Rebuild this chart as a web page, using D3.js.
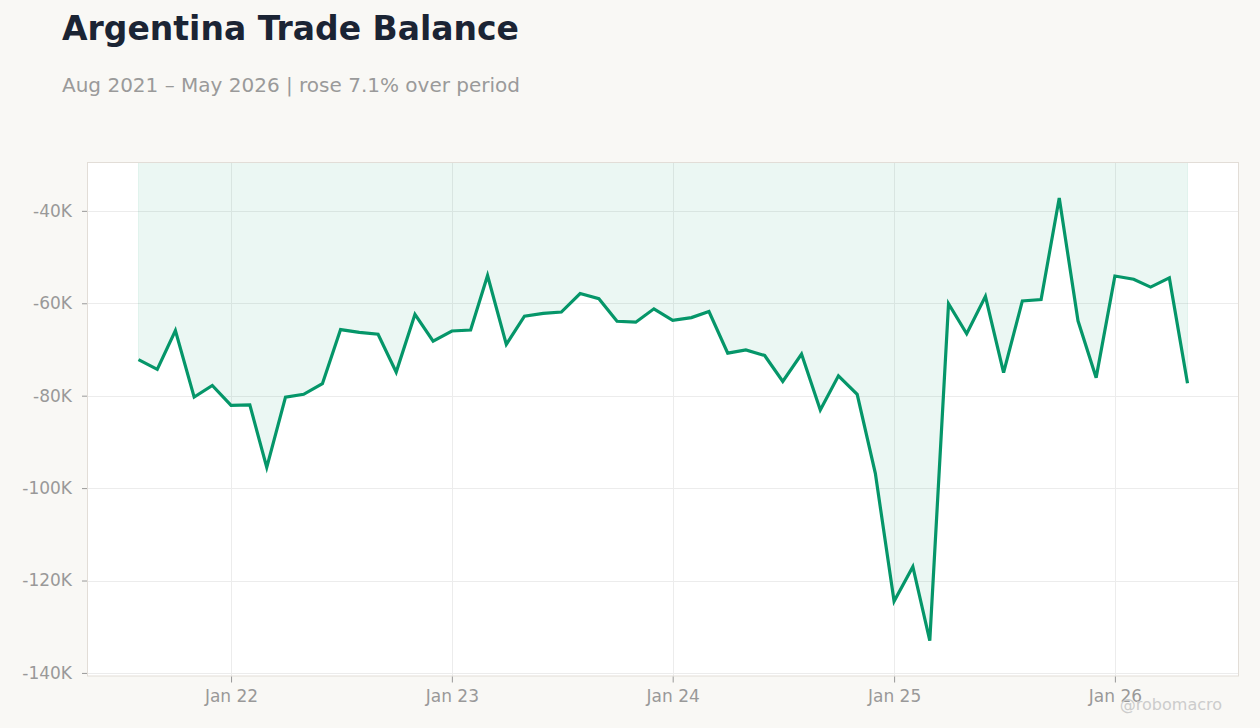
<!DOCTYPE html>
<html>
<head>
<meta charset="utf-8">
<script src="https://cdn.jsdelivr.net/npm/d3@7/dist/d3.min.js"></script>
<style>
  html, body { margin: 0; padding: 0; background: #f9f8f5; }
  svg { display: block; font-family: 'DejaVu Sans', sans-serif; }
</style>
</head>
<body>
<svg id="chart" width="1260" height="728"></svg>
<script>
'use strict';

// monthly values, thousands of USD, Aug 2021 .. May 2026
var startMonth = '2021-08';
var balance = [
  -72.2, -74.3, -65.9, -80.3, -77.8,
  -82.1, -82.0, -95.5, -80.3, -79.7, -77.4, -65.7, -66.3, -66.7, -74.9, -62.4, -68.2,
  -66.0, -65.8, -54.0, -68.9, -62.8, -62.2, -61.9, -57.9, -59.0, -63.9, -64.1, -61.2,
  -63.7, -63.1, -61.8, -70.8, -70.1, -71.3, -76.9, -71.0, -83.1, -75.7, -79.7, -96.8,
  -124.5, -117.0, -133.0, -60.1, -66.6, -58.5, -75.0, -59.5, -59.2, -37.2, -63.8, -76.1,
  -54.1, -54.8, -56.5, -54.5, -77.3
];
var yTicks = [-140, -120, -100, -80, -60, -40];
var xTickYears = [2022, 2023, 2024, 2025, 2026];

var title = 'Argentina Trade Balance';
var subtitle = 'Aug 2021 \u2013 May 2026 | rose 7.1% over period';
var credit = '@robomacro';

var parseMonth = d3.timeParse('%Y-%m');
var first = parseMonth(startMonth);
var data = balance.map(function(v, i) {
  return { date: d3.timeMonth.offset(first, i), value: v };
});

var svg = d3.select('#chart');
var plot = { left: 87.5, top: 162.5, right: 1238.5, bottom: 676 };
var pad = 51;
var green = '#059669';

var x = d3.scaleTime()
  .domain(d3.extent(data, function(d) { return d.date; }))
  .range([plot.left + pad, plot.right - pad]);

var ext = d3.extent(balance);
var span = ext[1] - ext[0];
var y = d3.scaleLinear()
  .domain([ext[0] - span * 0.08, ext[1] + span * 0.08])
  .range([plot.bottom, plot.top]);

var xTicks = xTickYears.map(function(yr) { return new Date(yr, 0, 1); });

// plot background
svg.append('rect')
  .attr('x', plot.left).attr('y', plot.top)
  .attr('width', plot.right - plot.left)
  .attr('height', plot.bottom - plot.top)
  .attr('fill', '#ffffff');

svg.append('clipPath').attr('id', 'clip')
  .append('rect')
  .attr('x', plot.left).attr('y', plot.top)
  .attr('width', plot.right - plot.left)
  .attr('height', plot.bottom - plot.top);

// grid
var grid = svg.append('g').attr('stroke', '#ececec').attr('stroke-width', 1);
grid.selectAll('line.h').data(yTicks).enter().append('line')
  .attr('x1', plot.left).attr('x2', plot.right)
  .attr('y1', function(d) { return Math.round(y(d)) + 0.5; })
  .attr('y2', function(d) { return Math.round(y(d)) + 0.5; });
grid.selectAll('line.v').data(xTicks).enter().append('line')
  .attr('y1', plot.top).attr('y2', plot.bottom)
  .attr('x1', function(d) { return Math.round(x(d)) + 0.5; })
  .attr('x2', function(d) { return Math.round(x(d)) + 0.5; });

// shaded area up to zero (clipped at the plot top)
var area = d3.area()
  .x(function(d) { return x(d.date); })
  .y0(y(0))
  .y1(function(d) { return y(d.value); });

svg.append('path')
  .datum(data)
  .attr('clip-path', 'url(#clip)')
  .attr('d', area)
  .attr('fill', green)
  .attr('fill-opacity', 0.08)
  .attr('stroke', green)
  .attr('stroke-opacity', 0.08);

var line = d3.line()
  .x(function(d) { return x(d.date); })
  .y(function(d) { return y(d.value); });

svg.append('path')
  .datum(data)
  .attr('d', line)
  .attr('fill', 'none')
  .attr('stroke', green)
  .attr('stroke-width', 3.2)
  .attr('stroke-linejoin', 'miter');

// frame
svg.append('rect')
  .attr('x', plot.left).attr('y', plot.top)
  .attr('width', plot.right - plot.left)
  .attr('height', plot.bottom - plot.top)
  .attr('fill', 'none')
  .attr('stroke', '#e2ddd7');

// axes
var yAxis = d3.axisLeft(y)
  .tickValues(yTicks)
  .tickSize(5)
  .tickSizeOuter(0)
  .tickPadding(10)
  .tickFormat(function(d) { return d + 'K'; });

var gy = svg.append('g')
  .attr('transform', 'translate(' + (plot.left - 0.5) + ',0)')
  .call(yAxis);

var xAxis = d3.axisBottom(x)
  .tickValues(xTicks)
  .tickSize(6)
  .tickSizeOuter(0)
  .tickPadding(7)
  .tickFormat(d3.timeFormat('Jan %y'));

var gx = svg.append('g')
  .attr('transform', 'translate(0,' + (plot.bottom + 0.5) + ')')
  .call(xAxis);

[gy, gx].forEach(function(g) {
  g.select('.domain').remove();
  g.selectAll('.tick line').attr('stroke', '#999');
  g.selectAll('.tick text')
    .attr('fill', '#999')
    .style('font-size', '17px')
    .style('font-family', "'DejaVu Sans', sans-serif");
});

// titles
svg.append('text')
  .attr('x', 62).attr('y', 40)
  .attr('fill', '#1b2434')
  .style('font-size', '33px')
  .style('font-weight', 'bold')
  .text(title);

svg.append('text')
  .attr('x', 62).attr('y', 92)
  .attr('fill', '#9a9a9a')
  .style('font-size', '20px')
  .text(subtitle);

svg.append('text')
  .attr('x', 1222).attr('y', 710)
  .attr('text-anchor', 'end')
  .attr('fill', '#cccccc')
  .style('font-size', '16px')
  .text(credit);
</script>
</body>
</html>
